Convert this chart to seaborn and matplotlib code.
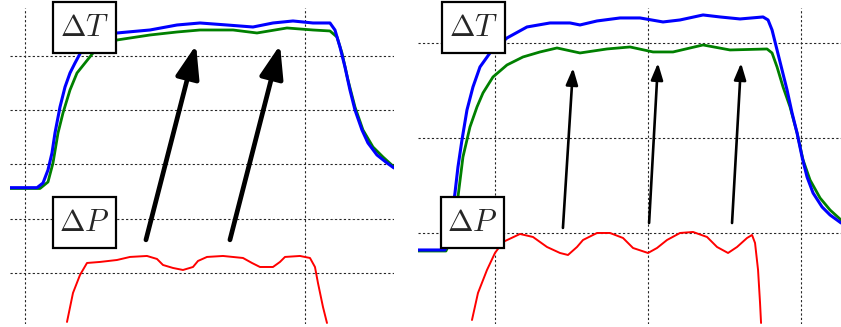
import pandas as pd
import seaborn as sns
import matplotlib.pyplot as plt
from matplotlib.patches import Rectangle

sns.set_style('white')
plt.rcParams['mathtext.fontset'] = 'cm'

# left panel traces (time, signal)
left_blue_t = [-5.36, 4.29, 6.43, 8.21, 9.64, 10.71, 12.50, 14.29, 16.07, 17.86, 20.36, 25.0, 32.86,
               44.64, 54.29, 62.50, 72.14, 81.43, 88.57, 95.71, 102.86, 108.93, 110.71, 112.50,
               114.29, 116.07, 117.86, 120.36, 122.50, 125.71, 129.29, 131.79]
left_blue_v = [15.71, 15.71, 16.57, 18.97, 22.10, 25.78, 30.57, 34.25, 36.83, 38.67, 41.07, 43.28, 44.20,
               44.75, 45.67, 46.04, 45.67, 45.30, 46.04, 46.41, 46.04, 46.04, 44.75, 41.62,
               37.94, 33.70, 30.02, 26.34, 23.94, 21.73, 20.26, 19.34]

left_green_t = [-5.36, 5.36, 8.21, 10.0, 11.79, 13.57, 16.07, 18.57, 21.43, 24.29, 32.86, 44.64, 54.29,
                62.50, 74.29, 82.86, 93.57, 102.86, 108.93, 111.43, 113.21, 115.36, 117.86, 120.71,
                124.29, 127.86, 131.79]
left_green_v = [15.56, 15.56, 16.76, 20.26, 25.78, 29.47, 33.70, 36.83, 38.67, 40.52, 42.91, 43.83, 44.38,
                44.75, 44.75, 44.20, 45.12, 44.75, 44.57, 43.46, 40.52, 35.54, 30.57, 26.34,
                23.20, 21.36, 19.52]

left_red_t = [15.0, 17.14, 19.64, 22.14, 26.79, 32.86, 37.50, 43.57, 47.14, 49.29, 52.86, 56.43, 60.0,
              61.79, 65.0, 70.71, 77.86, 81.07, 83.93, 88.57, 91.07, 92.86, 98.21, 101.79, 103.57,
              104.64, 106.43, 107.86]
left_red_v = [-9.02, -3.68, -0.37, 1.84, 2.03, 2.39, 2.95, 3.13, 2.58, 1.47, 0.92, 0.55, 1.10,
              2.21, 2.95, 3.13, 2.76, 1.84, 1.10, 1.10, 2.03, 2.95, 3.13, 2.76, 1.10,
              -1.84, -6.26, -9.21]

# right panel traces
right_blue_t = [-50.33, -32.68, -30.07, -28.10, -26.14, -24.18, -21.57, -18.30, -14.38, -9.80, -3.27,
                7.84, 20.92, 35.95, 49.02, 55.56, 66.67, 81.70, 94.77, 109.80, 120.92, 135.95, 147.06,
                160.13, 175.16, 178.43, 181.05, 184.31, 187.58, 190.85, 194.12, 197.39, 200.65,
                203.92, 207.84, 213.73, 218.95, 226.14]
right_blue_v = [-17.89, -17.89, -7.37, 18.95, 42.11, 69.47, 97.89, 129.47, 153.68, 174.74, 189.47,
                205.26, 216.84, 221.05, 221.05, 218.95, 223.16, 226.32, 226.32, 222.11, 224.21, 229.47,
                227.37, 225.26, 227.37, 224.21, 213.68, 192.63, 171.58, 150.53, 126.32, 105.26, 80.0,
                58.95, 42.11, 27.37, 18.95, 10.53]

right_green_t = [-50.33, -32.03, -28.76, -26.14, -24.18, -20.92, -16.34, -11.76, -7.84, -1.31, 7.84,
                 18.30, 29.41, 40.52, 55.56, 73.20, 88.24, 103.27, 116.34, 135.95, 153.59, 177.78,
                 181.05, 184.31, 188.24, 192.81, 197.39, 201.31, 205.88, 212.42, 218.95, 226.14]
right_green_v = [-18.95, -18.95, -7.37, 18.95, 37.89, 80.0, 111.58, 132.63, 147.37, 164.21, 176.84,
                 185.26, 190.53, 194.74, 189.47, 193.68, 195.79, 190.53, 190.53, 197.89, 192.63, 193.68,
                 189.47, 174.74, 153.68, 132.63, 105.26, 76.84, 55.79, 36.84, 24.21, 13.68]

right_red_t = [-15.03, -11.11, -5.23, 0.0, 5.23, 16.34, 24.84, 33.99, 42.48, 47.71, 53.59, 57.52,
               66.67, 75.16, 83.66, 90.20, 100.0, 105.88, 112.42, 120.92, 129.41, 138.56, 145.10,
               152.29, 158.17, 164.71, 167.97, 169.93, 171.90, 173.20, 173.86]
right_red_v = [-91.58, -63.16, -38.95, -21.05, -9.47, -1.05, -4.21, -14.74, -21.05, -23.16, -14.74,
               -7.37, 0.0, 0.0, -5.26, -15.79, -21.05, -15.79, -7.37, 0.0, 1.05, -4.21, -14.74,
               -21.05, -14.74, -5.26, -2.11, -10.53, -38.95, -73.68, -94.74]

fig = plt.figure(figsize=(8.41, 3.27), dpi=100)
ax1 = fig.add_axes([10 / 841, 3 / 327, 384 / 841, 316 / 327])
ax2 = fig.add_axes([418 / 841, 3 / 327, 423 / 841, 316 / 327])

def trace(ax, t, v, color, lw):
    df = pd.DataFrame({'t': t, 'v': v})
    sns.lineplot(data=df, x='t', y='v', ax=ax, color=color, lw=lw, estimator=None, sort=False)

trace(ax1, left_red_t, left_red_v, 'red', 1.4)
trace(ax1, left_green_t, left_green_v, 'green', 2.0)
trace(ax1, left_blue_t, left_blue_v, 'blue', 2.2)
trace(ax2, right_red_t, right_red_v, 'red', 1.4)
trace(ax2, right_green_t, right_green_v, 'green', 2.0)
trace(ax2, right_blue_t, right_blue_v, 'blue', 2.2)

ax1.set_xlim(-5.36, 131.8)
ax1.set_ylim(-9.4, 48.8)
ax1.set_xticks([0, 100])
ax1.set_yticks([0, 10, 20, 30, 40])
ax2.set_xlim(-50.3, 226.1)
ax2.set_ylim(-95.8, 236.8)
ax2.set_xticks([0, 100, 200])
ax2.set_yticks([0, 100, 200])

for ax in (ax1, ax2):
    ax.grid(True, color='0.15', linestyle=(0, (2, 2)), lw=0.8)
    ax.set_axisbelow(True)
    ax.tick_params(length=0, labelbottom=False, labelleft=False)
    ax.set_xlabel('')
    ax.set_ylabel('')
    for s in ax.spines.values():
        s.set_visible(False)

# arrows from the pressure trace up to the temperature trace
big = dict(arrowstyle='-|>,head_length=1.0,head_width=0.36', lw=3.4, color='black',
           mutation_scale=20, shrinkA=0, shrinkB=0)
ax1.annotate('', xy=(61.1, 42.0), xytext=(43.2, 6.1), arrowprops=big)
ax1.annotate('', xy=(91.1, 42.0), xytext=(73.2, 6.1), arrowprops=big)

small = dict(arrowstyle='-|>,head_length=1.0,head_width=0.36', lw=1.9, color='black',
             mutation_scale=10, shrinkA=0, shrinkB=0)
ax2.annotate('', xy=(51.0, 173.7), xytext=(44.4, 5.3), arrowprops=small)
ax2.annotate('', xy=(106.5, 178.9), xytext=(100.7, 10.5), arrowprops=small)
ax2.annotate('', xy=(160.8, 178.9), xytext=(154.9, 10.5), arrowprops=small)

# labelled boxes
W, H = 841, 327
for x0, y0, label in [(53, 2, r'$\Delta T$'), (53, 197, r'$\Delta P$'),
                      (442, 2, r'$\Delta T$'), (441, 197, r'$\Delta P$')]:
    w, h = 63, 51
    fig.add_artist(Rectangle((x0 / W, 1 - (y0 + h) / H), w / W, h / H, transform=fig.transFigure,
                             facecolor='white', edgecolor='black', lw=1.6, zorder=10))
    fig.text((x0 + w / 2) / W, 1 - (y0 + h / 2) / H, label, ha='center', va='center',
             fontsize=22, zorder=11)

fig.savefig('out.png', dpi=100)
